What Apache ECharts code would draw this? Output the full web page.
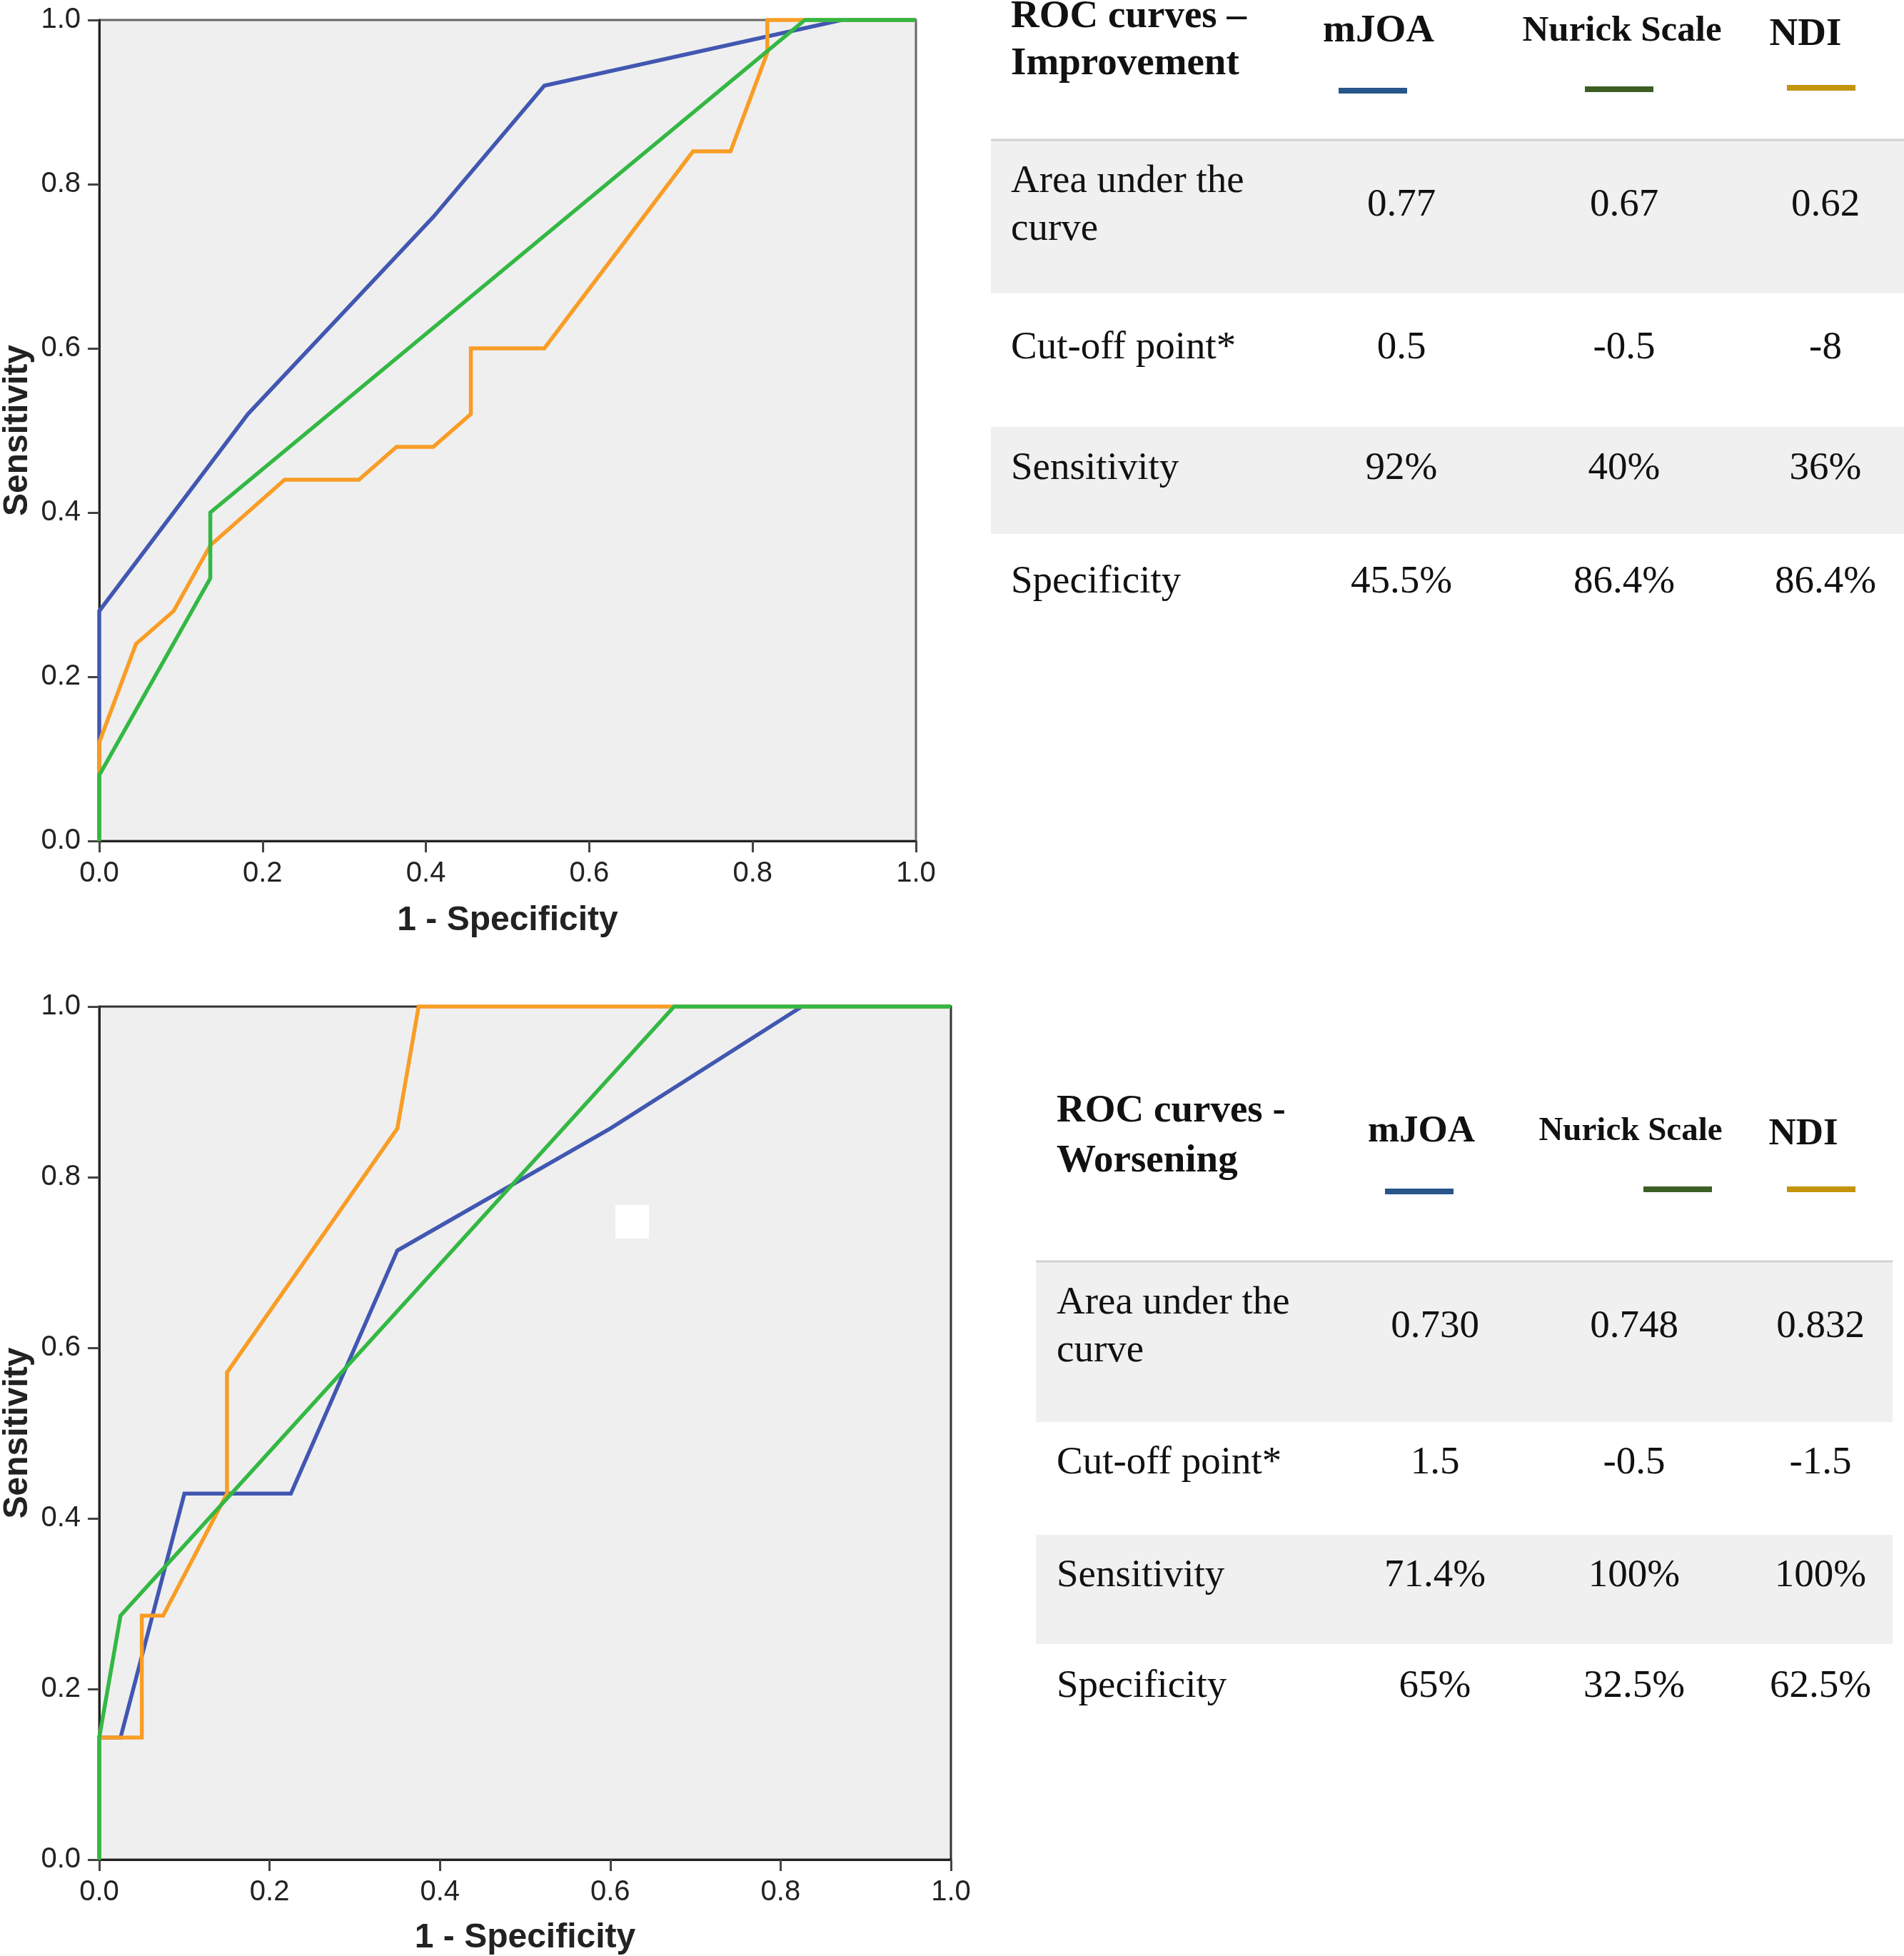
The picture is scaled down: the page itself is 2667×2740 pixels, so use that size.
<!DOCTYPE html>
<html>
<head>
<meta charset="utf-8">
<script src="https://cdn.jsdelivr.net/npm/echarts@6/dist/echarts.min.js"></script>
<style>
html,body{margin:0;padding:0;background:#fff;}
#chart{width:2667px;height:2740px;}
</style>
</head>
<body>
<div id="chart"></div>
<script>
// ---------- Data: ROC curves (x = 1 - Specificity, y = Sensitivity) ----------
const impMJOA   = [[0,0],[0,0.28],[0.182,0.52],[0.409,0.76],[0.545,0.92],[0.909,1],[1,1]];
const impNurick = [[0,0],[0,0.08],[0.136,0.32],[0.136,0.40],[0.864,1],[1,1]];
const impNDI    = [[0,0],[0,0.12],[0.045,0.24],[0.091,0.28],[0.136,0.36],[0.227,0.44],[0.318,0.44],
                   [0.364,0.48],[0.409,0.48],[0.455,0.52],[0.455,0.60],[0.545,0.60],[0.727,0.84],
                   [0.773,0.84],[0.818,0.96],[0.818,1],[1,1]];

const worMJOA   = [[0,0],[0,0.143],[0.025,0.143],[0.10,0.429],[0.225,0.429],[0.35,0.714],[0.60,0.857],[0.825,1],[1,1]];
const worNurick = [[0,0],[0,0.143],[0.025,0.286],[0.675,1],[1,1]];
const worNDI    = [[0,0],[0,0.143],[0.05,0.143],[0.05,0.286],[0.075,0.286],[0.15,0.429],[0.15,0.571],
                   [0.35,0.857],[0.375,1],[1,1]];

// ---------- Table contents ----------
const seriesNames   = ['mJOA','Nurick Scale','NDI'];
const rowLabels     = ['Area under the\ncurve','Cut-off point*','Sensitivity','Specificity'];
const impTitle      = 'ROC curves –\nImprovement';
const impMJOAStats  = ['0.77','0.5','92%','45.5%'];
const impNurickStats= ['0.67','-0.5','40%','86.4%'];
const impNDIStats   = ['0.62','-8','36%','86.4%'];
const worTitle      = 'ROC curves -\nWorsening';
const worMJOAStats  = ['0.730','1.5','71.4%','65%'];
const worNurickStats= ['0.748','-0.5','100%','32.5%'];
const worNDIStats   = ['0.832','-1.5','100%','62.5%'];

const axisTitleX = '1 - Specificity';
const axisTitleY = 'Sensitivity';

// ---------- Styles ----------
const lineColors   = ['#4157b1','#33b844','#f99d26'];
const legendColors = ['#28558a','#3d5f24','#c4940c'];
const sans  = "'Liberation Sans', Arial, Helvetica, sans-serif";
const serif = "'Liberation Serif', 'Times New Roman', serif";

const chart = echarts.init(document.getElementById('chart'), null, {renderer:'canvas'});

function xAxisCfg(gi, gap){
  return {
    gridIndex: gi, type:'value', min:0, max:1, interval:0.2,
    name: axisTitleX, nameLocation:'middle', nameGap: gap,
    nameTextStyle:{fontFamily:sans, fontWeight:'bold', fontSize:48, color:'#222'},
    axisLine:{show:true, onZero:false, lineStyle:{color:'#222', width:3}},
    axisTick:{show:true, inside:false, length:16, lineStyle:{color:'#444', width:3}},
    axisLabel:{fontFamily:sans, fontSize:40, color:'#222', margin:26, formatter:v=>v.toFixed(1)},
    splitLine:{show:false}
  };
}
function yAxisCfg(gi){
  return {
    gridIndex: gi, type:'value', min:0, max:1, interval:0.2,
    name: axisTitleY, nameLocation:'middle', nameGap: 90, nameRotate:90,
    nameTextStyle:{fontFamily:sans, fontWeight:'bold', fontSize:48, color:'#222'},
    axisLine:{show:true, onZero:false, lineStyle:{color:'#222', width:3}},
    axisTick:{show:true, inside:false, length:16, lineStyle:{color:'#444', width:3}},
    axisLabel:{fontFamily:sans, fontSize:40, color:'#222', margin:26, formatter:v=>v.toFixed(1)},
    splitLine:{show:false}
  };
}
function lineSeries(name, data, idx, gi){
  return {
    name, type:'line', data, xAxisIndex:gi, yAxisIndex:gi,
    showSymbol:false, symbol:'none', clip:false, animation:false,
    lineStyle:{color:lineColors[idx], width:5.5, join:'miter'},
    z: 3 + (idx===1 ? 2 : (idx===2 ? 1 : 0))
  };
}

// ---------- Table graphics ----------
function buildTable(cfg){
  const els = [];
  cfg.shade.forEach(r=>{
    els.push({type:'rect', shape:{x:cfg.left, y:r[0], width:cfg.right-cfg.left, height:r[1]-r[0]},
              style:{fill:'#f0f0f0'}, silent:true});
  });
  els.push({type:'line', shape:{x1:cfg.left, y1:cfg.sepY, x2:cfg.right, y2:cfg.sepY},
            style:{stroke:'#d2d2d2', lineWidth:3}, silent:true});
  els.push({type:'text', x:cfg.labelX, y:cfg.titleY,
            style:{text:cfg.title, fontFamily:serif, fontWeight:'bold', fontSize:55, fill:'#111',
                   lineHeight:cfg.titleLH, align:'left', verticalAlign:'middle'}});
  seriesNames.forEach((n,i)=>{
    els.push({type:'text', x:cfg.headX[i], y:cfg.headY[i],
              style:{text:n, fontFamily:serif, fontWeight:'bold', fontSize:cfg.headSize[i], fill:'#111',
                     align:'center', verticalAlign:'middle'}});
    els.push({type:'rect', shape:{x:cfg.barX[i], y:cfg.barY[i], width:96, height:8},
              style:{fill:legendColors[i]}, silent:true});
  });
  rowLabels.forEach((lab,r)=>{
    els.push({type:'text', x:cfg.labelX, y:cfg.rowY[r],
              style:{text:lab, fontFamily:serif, fontSize:55, fill:'#111', lineHeight:67,
                     align:'left', verticalAlign:'middle'}});
    cfg.stats.forEach((col,c)=>{
      els.push({type:'text', x:cfg.colX[c], y:cfg.rowY[r],
                style:{text:col[r], fontFamily:serif, fontSize:55, fill:'#111',
                       align:'center', verticalAlign:'middle'}});
    });
  });
  return els;
}

const topTable = buildTable({
  left:1388, right:2667, sepY:196, shade:[[196,411],[598,748]],
  title:impTitle, titleY:57, titleLH:66, labelX:1416,
  headX:[1931,2272,2529], headY:[44,44,49], headSize:[55,51,55],
  barX:[1875,2220,2503], barY:[123,121,119],
  rowY:[288,488,657,816], colX:[1963,2275,2557],
  stats:[impMJOAStats, impNurickStats, impNDIStats]
});
const botTable = buildTable({
  left:1451, right:2651, sepY:1767, shade:[[1767,1992],[2150,2303]],
  title:worTitle, titleY:1592, titleLH:70, labelX:1480,
  headX:[1991,2284,2526], headY:[1585,1585,1589], headSize:[53,47,53],
  barX:[1940,2302,2503], barY:[1665,1662,1662],
  rowY:[1859,2050,2208,2363], colX:[2010,2289,2550],
  stats:[worMJOAStats, worNurickStats, worNDIStats]
});

const option = {
  backgroundColor:'#ffffff',
  animation:false,
  grid:[
    {left:135, top:28, width:1148, height:1150, show:true, backgroundColor:'#efefef',
     borderColor:'#666', borderWidth:3, containLabel:false},
    {left:135, top:1410, width:1197, height:1196, show:true, backgroundColor:'#efefef',
     borderColor:'#333', borderWidth:3, containLabel:false}
  ],
  xAxis:[xAxisCfg(0, 88), xAxisCfg(1, 86)],
  yAxis:[yAxisCfg(0), yAxisCfg(1)],
  series:[
    lineSeries('mJOA', impMJOA, 0, 0),
    lineSeries('NDI', impNDI, 2, 0),
    lineSeries('Nurick Scale', impNurick, 1, 0),
    lineSeries('mJOA', worMJOA, 0, 1),
    lineSeries('NDI', worNDI, 2, 1),
    lineSeries('Nurick Scale', worNurick, 1, 1)
  ],
  graphic: topTable.concat(botTable).concat([
    {type:'rect', shape:{x:862, y:1688, width:47, height:47}, style:{fill:'#ffffff'}, z:10, silent:true}
  ])
};
chart.setOption(option);
</script>
</body>
</html>
